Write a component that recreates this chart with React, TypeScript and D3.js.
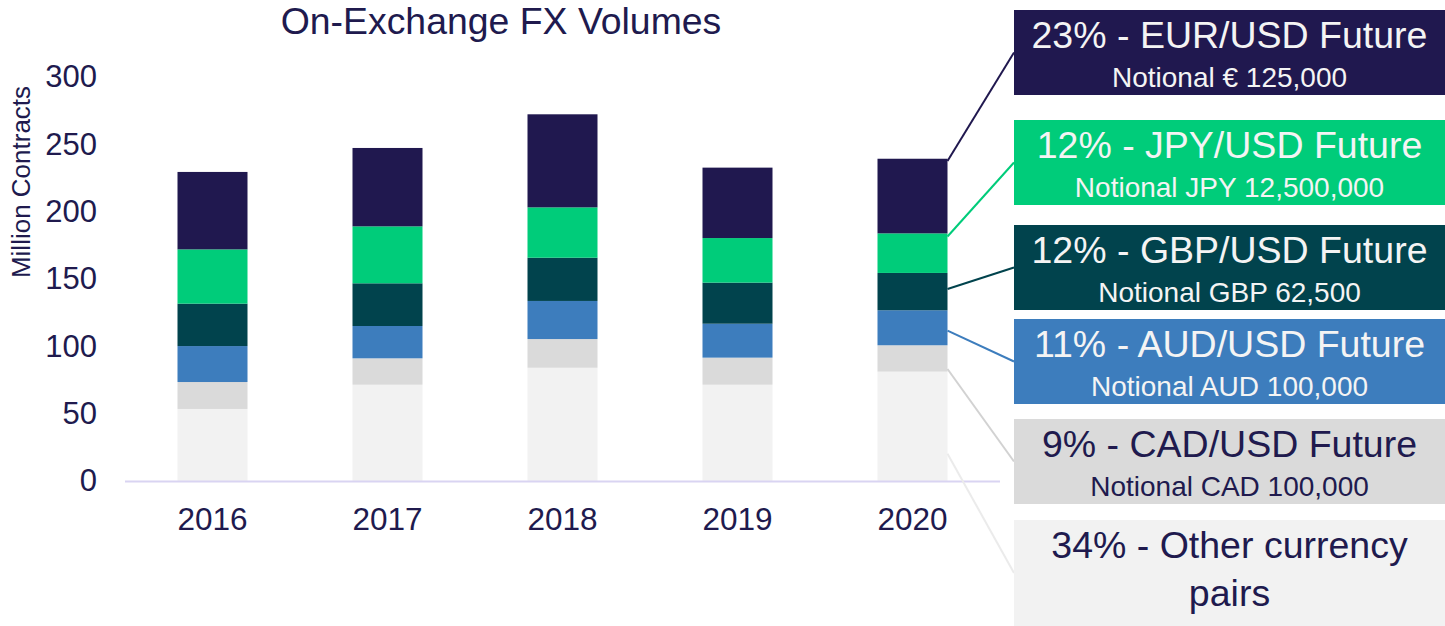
import React from "react";
import * as d3 from "d3";

const years = ["2016", "2017", "2018", "2019", "2020"];
const seriesKeys = ["other", "cad", "aud", "gbp", "jpy", "eur"];
const otherValues = [53.5, 71.5, 84.1, 71.5, 81.2];
const cadValues = [20.0, 19.6, 21.3, 20.1, 19.6];
const audValues = [26.7, 24.0, 28.3, 25.2, 26.0];
const gbpValues = [31.5, 31.7, 32.1, 30.5, 27.7];
const jpyValues = [40.3, 42.3, 37.4, 33.1, 29.4];
const eurValues = [57.5, 58.2, 69.1, 52.3, 55.4];
const yTicks = [0, 50, 100, 150, 200, 250, 300];

// legend (top to bottom)
const legendKeys = ["eur", "jpy", "gbp", "aud", "cad", "other"];
const legendTitles = [
  ["23% - EUR/USD Future"],
  ["12% - JPY/USD Future"],
  ["12% - GBP/USD Future"],
  ["11% - AUD/USD Future"],
  ["9% - CAD/USD Future"],
  ["34% - Other currency", "pairs"],
];
const legendSubtitles = [
  "Notional € 125,000",
  "Notional JPY 12,500,000",
  "Notional GBP 62,500",
  "Notional AUD 100,000",
  "Notional CAD 100,000",
  "",
];

// styles
const colors: Record<string, string> = {
  eur: "#20184f",
  jpy: "#00cc7a",
  gbp: "#01434d",
  aud: "#3d7dbd",
  cad: "#dadada",
  other: "#f2f2f2",
};
const lineColors: Record<string, string> = {
  eur: "#20184f",
  jpy: "#00cc7a",
  gbp: "#01434d",
  aud: "#3d7dbd",
  cad: "#d2d2d2",
  other: "#ebebeb",
};
const textColors: Record<string, string> = {
  eur: "#f4f4f4",
  jpy: "#f4f4f4",
  gbp: "#f4f4f4",
  aud: "#f4f4f4",
  cad: "#201a4e",
  other: "#201a4e",
};
// where on the last bar's segment the connector starts (fraction from bottom)
const anchorFrac: Record<string, number> = {
  eur: 0.97,
  jpy: 0.92,
  gbp: 0.57,
  aud: 0.42,
  cad: 0.1,
  other: 0.25,
};
const legendTops = [10, 120, 225, 319, 419, 520];
const legendHeights = [85, 85, 85, 85, 85, 106];

const W = 1445;
const H = 626;
const NAVY = "#201a4e";
const FONT = "'Liberation Sans', Arial, Helvetica, sans-serif";

export default function App() {
  const valuesByKey: Record<string, number[]> = {
    other: otherValues,
    cad: cadValues,
    aud: audValues,
    gbp: gbpValues,
    jpy: jpyValues,
    eur: eurValues,
  };
  const rows = years.map((yr, i) => {
    const r: any = { year: yr };
    seriesKeys.forEach((k) => (r[k] = valuesByKey[k][i]));
    return r;
  });
  const stacked = d3.stack().keys(seriesKeys)(rows);

  const x = d3
    .scaleBand()
    .domain(years)
    .range([125, 1000])
    .paddingInner(0.6)
    .paddingOuter(0.3);
  const y = d3.scaleLinear().domain([0, 300]).range([481, 77]);

  const boxX = 1014;
  const boxW = W - boxX;
  const lastYear = years[years.length - 1];
  const lastIdx = years.length - 1;
  const barRight = (x(lastYear) as number) + x.bandwidth();

  return (
    <div style={{ position: "fixed", left: 0, top: 0 }}>
      <svg width={W} height={H} style={{ display: "block", fontFamily: FONT }}>
        <rect width={W} height={H} fill="#ffffff" />
        <text x={501} y={34} textAnchor="middle" fontSize={37.4} fill={NAVY}>
          On-Exchange FX Volumes
        </text>
        <text
          transform={`translate(30,${(85 + 279) / 2}) rotate(-90)`}
          textAnchor="middle"
          fontSize={26}
          fill={NAVY}
        >
          Million Contracts
        </text>
        {yTicks.map((t) => (
          <text
            key={t}
            x={97}
            y={y(t)}
            dy="0.33em"
            textAnchor="end"
            fontSize={31}
            fill={NAVY}
          >
            {t}
          </text>
        ))}
        {stacked.map((s) => (
          <g key={s.key} fill={colors[s.key]}>
            {s.map((d, i) => (
              <rect
                key={i}
                x={x(years[i])}
                y={y(d[1])}
                width={x.bandwidth()}
                height={y(d[0]) - y(d[1])}
              />
            ))}
          </g>
        ))}
        <line x1={125} x2={1000} y1={481.5} y2={481.5} stroke="#d9d4f2" strokeWidth={2} />
        {years.map((yr) => (
          <text
            key={yr}
            x={(x(yr) as number) + x.bandwidth() / 2}
            y={530}
            textAnchor="middle"
            fontSize={31.5}
            fill={NAVY}
          >
            {yr}
          </text>
        ))}
        {legendKeys.map((k, li) => {
          const s = stacked.find((ss) => ss.key === k)!;
          const seg = s[lastIdx];
          const v = seg[0] + anchorFrac[k] * (seg[1] - seg[0]);
          const top = legendTops[li];
          const h = legendHeights[li];
          const cy = top + (li === 5 ? 53 : h / 2);
          const cx = boxX + boxW / 2;
          const titles = legendTitles[li];
          return (
            <g key={k}>
              <line
                x1={barRight}
                y1={y(v)}
                x2={boxX}
                y2={cy}
                stroke={lineColors[k]}
                strokeWidth={2}
              />
              <rect x={boxX} y={top} width={boxW} height={h} fill={colors[k]} />
              {titles.map((t, ti) => (
                <text
                  key={ti}
                  x={cx}
                  y={top + 37.5 + ti * 48}
                  textAnchor="middle"
                  fontSize={37.5}
                  fill={textColors[k]}
                >
                  {t}
                </text>
              ))}
              {legendSubtitles[li] && (
                <text
                  x={cx}
                  y={top + 77.3}
                  textAnchor="middle"
                  fontSize={28}
                  fill={textColors[k]}
                >
                  {legendSubtitles[li]}
                </text>
              )}
            </g>
          );
        })}
      </svg>
    </div>
  );
}
